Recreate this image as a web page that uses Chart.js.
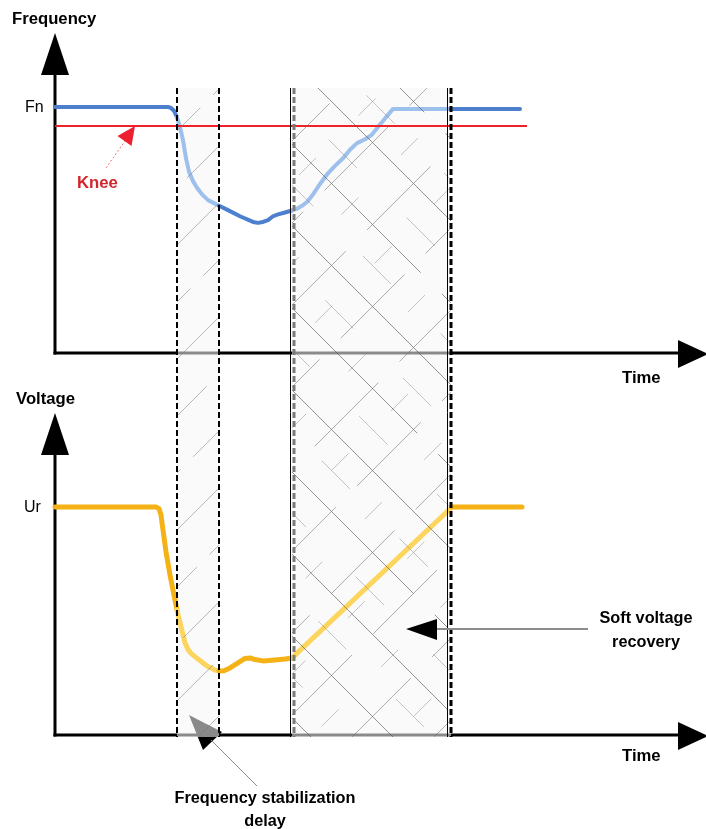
<!DOCTYPE html>
<html><head><meta charset="utf-8">
<style>html,body{margin:0;padding:0;background:#fff;}canvas{display:block;}</style>
<script src="https://cdn.jsdelivr.net/npm/chart.js@4"></script>
</head><body>
<canvas id="c" width="706" height="829"></canvas>
<script>
// ---- data (time in arbitrary units, frequency in Hz, voltage in % of Ur) ----
const timeF = [0, 11.3, 11.6, 11.9, 12.2, 12.5, 12.8, 13.1, 13.4, 13.8, 14.2, 14.7, 15.3, 16.4, 17.2, 18.5, 19.8, 20.3, 20.8, 21.3, 21.8, 22.3, 23.0, 23.7, 24.2, 24.7, 25.2, 25.8, 26.5, 27.2, 28.0, 28.8, 29.5, 30.2, 31.0, 31.7, 32.3, 33.0, 33.8, 39.6, 46.5];
const freqHz = [50, 50, 49.99, 49.96, 49.89, 49.79, 49.65, 49.46, 49.32, 49.22, 49.15, 49.08, 49.02, 48.96, 48.92, 48.85, 48.79, 48.78, 48.79, 48.81, 48.85, 48.87, 48.89, 48.91, 48.93, 48.96, 49.00, 49.08, 49.19, 49.29, 49.38, 49.46, 49.55, 49.62, 49.66, 49.71, 49.79, 49.88, 49.98, 49.98, 49.98];
const timeV = [0, 10.1, 10.4, 10.6, 10.8, 11.1, 11.5, 11.9, 12.2, 12.6, 13.0, 13.3, 13.6, 14.3, 15.2, 16.0, 16.4, 16.9, 17.5, 18.3, 19.0, 19.5, 20.0, 20.8, 22.0, 23.0, 23.7, 39.7, 46.7];
const voltPct = [100, 100, 99.3, 96.5, 89.9, 80.3, 70.2, 61.4, 54.8, 47.4, 40.4, 37.5, 35.8, 33.3, 30.3, 28.5, 28.1, 28.2, 29.4, 31.6, 33.6, 33.8, 33.1, 32.5, 32.9, 33.3, 33.8, 100, 100];
const kneeTime = [0, 47.2];
const kneeHz = [49.8, 49.8];
const shadeStart = [12.2, 23.7];   // frequency stabilization delay, soft voltage recovery
const shadeEnd = [16.4, 39.6];
const freqLabels = ['Fn'];
const voltLabels = ['Ur'];

// ---- layout helpers ----
const W = 706, H = 829;
function range(v1, p1, v2, p2, size, inverted) {
  const k = (v2 - v1) / (p2 - p1);
  const a = v1 - p1 * k, b = v1 + (size - p1) * k;
  return inverted ? {min: b, max: a} : {min: a, max: b};
}
const xr = range(0, 55, 10, 155, W, false);
const fr = range(50, 107, 49.8, 126, H, true);
const vr = range(100, 507, 0, 735, H, true);
const freqAxis = {base: 47.41, top: 50.78};
const voltAxis = {base: 0, top: 141.2};
const timeAxisEnd = 65.3;

const inShade = t => shadeStart.some((s, i) => t >= s && t <= shadeEnd[i]);
const segCol = (dark, light) => ctx => inShade((ctx.p0.parsed.x + ctx.p1.parsed.x) / 2) ? light : dark;

const BOLD = 'bold 16.7px "Liberation Sans", Arial, sans-serif';
const BOLD_S = 'bold 16.3px "Liberation Sans", Arial, sans-serif';
const REG = '16px "Liberation Sans", Arial, sans-serif';

function tri(ctx, pts, fill) {
  ctx.beginPath(); ctx.moveTo(pts[0][0], pts[0][1]);
  for (let i = 1; i < pts.length; i++) ctx.lineTo(pts[i][0], pts[i][1]);
  ctx.closePath(); ctx.fillStyle = fill; ctx.fill();
}
function line(ctx, x0, y0, x1, y1, col, w, dash) {
  ctx.beginPath(); ctx.setLineDash(dash || []); ctx.strokeStyle = col; ctx.lineWidth = w;
  ctx.moveTo(x0, y0); ctx.lineTo(x1, y1); ctx.stroke(); ctx.setLineDash([]);
}
function hatch(ctx, r, dir, spacing, offset, col, w, dash) {
  ctx.save(); ctx.beginPath(); ctx.rect(r.x0, r.y0, r.x1 - r.x0, r.y1 - r.y0); ctx.clip();
  ctx.strokeStyle = col; ctx.lineWidth = w;
  let k = 0;
  if (dir > 0) {
    const cmin = r.x0 + r.y0, cmax = r.x1 + r.y1;
    let c = cmin - (((cmin - offset) % spacing) + spacing) % spacing;
    for (; c <= cmax + spacing; c += spacing, k++) {
      ctx.setLineDash(dash || []); ctx.lineDashOffset = (k * 37) % 97;
      ctx.beginPath(); ctx.moveTo(r.x0, c - r.x0); ctx.lineTo(r.x1, c - r.x1); ctx.stroke();
    }
  } else {
    const cmin = r.y0 - r.x1, cmax = r.y1 - r.x0;
    let c = cmin - (((cmin - offset) % spacing) + spacing) % spacing;
    for (; c <= cmax + spacing; c += spacing, k++) {
      ctx.setLineDash(dash || []); ctx.lineDashOffset = (k * 53) % 101;
      ctx.beginPath(); ctx.moveTo(r.x0, c + r.x0); ctx.lineTo(r.x1, c + r.x1); ctx.stroke();
    }
  }
  ctx.restore();
}

const deco = {
  id: 'deco',
  beforeDatasetsDraw(chart) {
    const ctx = chart.ctx, xs = chart.scales.x, yF = chart.scales.yF, yV = chart.scales.yV;
    const x0 = xs.getPixelForValue(0), xEnd = xs.getPixelForValue(timeAxisEnd);
    ctx.save();
    // arrowhead of "Frequency stabilization delay" (partly under the shading)
    tri(ctx, [[189, 715], [222, 732], [203, 750]], '#000');
    // axes
    [[yF, freqAxis], [yV, voltAxis]].forEach(([ys, ax]) => {
      const yb = ys.getPixelForValue(ax.base), yt = ys.getPixelForValue(ax.top);
      line(ctx, x0, yt + 40, x0, yb + 1.5, '#000', 3);
      line(ctx, x0 - 1.5, yb, xEnd - 28, yb, '#000', 3);
      tri(ctx, [[x0, yt], [x0 - 14, yt + 42], [x0 + 14, yt + 42]], '#000');
      tri(ctx, [[xEnd, yb + 1], [xEnd - 30, yb - 13], [xEnd - 30, yb + 15]], '#000');
    });
    // shaded regions
    ctx.fillStyle = 'rgba(246,246,246,0.56)';
    shadeStart.forEach((s, i) => {
      const a = xs.getPixelForValue(s), b = xs.getPixelForValue(shadeEnd[i]);
      ctx.fillRect(a, 88, b - a, 737 - 88);
    });
    ctx.restore();
  },
  afterDatasetsDraw(chart) {
    const ctx = chart.ctx, xs = chart.scales.x, yF = chart.scales.yF, yV = chart.scales.yV;
    ctx.save();
    const r1 = {x0: xs.getPixelForValue(shadeStart[0]), x1: xs.getPixelForValue(shadeEnd[0]), y0: 88, y1: 737};
    const r2 = {x0: xs.getPixelForValue(shadeStart[1]), x1: xs.getPixelForValue(shadeEnd[1]), y0: 88, y1: 737};
    hatch(ctx, r1, 1, 57, 23, 'rgba(120,120,120,0.5)', 1, [70, 18]);
    hatch(ctx, r2, -1, 82, -230, 'rgba(80,80,80,0.6)', 1, [240, 30]);
    hatch(ctx, r2, 1, 82, 433, 'rgba(110,110,110,0.55)', 1, [90, 30]);
    hatch(ctx, r2, -1, 82, -189, 'rgba(140,140,140,0.5)', 1, [40, 70]);
    hatch(ctx, r2, 1, 82, 474, 'rgba(140,140,140,0.5)', 1, [24, 60]);
    // boundary lines
    const yTop = 88, yBot = 737;
    line(ctx, r1.x0, yTop, r1.x0, yBot, '#000', 2, [6, 3]);
    line(ctx, r1.x1, yTop, r1.x1, yBot, '#000', 2, [6, 3]);
    line(ctx, r2.x0 - 1.5, yTop, r2.x0 - 1.5, yBot, '#000', 1);
    line(ctx, r2.x0 + 2, yTop, r2.x0 + 2, yBot, '#7a7a7a', 3, [6, 3]);
    line(ctx, r2.x1 - 3.5, yTop, r2.x1 - 3.5, yBot, '#000', 1);
    line(ctx, r2.x1, yTop, r2.x1, yBot, '#000', 3, [6, 3]);

    // texts
    ctx.fillStyle = '#000'; ctx.textBaseline = 'alphabetic'; ctx.textAlign = 'left';
    ctx.font = BOLD;
    ctx.fillText('Frequency', 12, 24);
    ctx.fillText('Voltage', 16, 404);
    ctx.fillText('Time', 622, 383);
    ctx.fillText('Time', 622, 761);
    ctx.font = REG;
    ctx.textBaseline = 'middle';
    ctx.fillText(freqLabels[0], 25, yF.getPixelForValue(50) + 0.5);
    ctx.fillText(voltLabels[0], 24, yV.getPixelForValue(100) + 0.5);
    ctx.textBaseline = 'alphabetic';
    // knee annotation
    ctx.fillStyle = '#d0262c'; ctx.font = BOLD;
    ctx.fillText('Knee', 77, 188);
    line(ctx, 106, 168, 125, 141, 'rgba(232,60,60,0.7)', 1, [2, 2]);
    tri(ctx, [[135, 126], [131.5, 146], [117.5, 136]], '#ec2030');
    // soft voltage recovery
    ctx.fillStyle = '#000'; ctx.font = BOLD_S; ctx.textAlign = 'center';
    ctx.fillText('Soft voltage', 646, 623);
    ctx.fillText('recovery', 646, 647);
    line(ctx, 588, 629, 430, 629, '#8c8c8c', 2);
    tri(ctx, [[406, 629], [437, 619], [437, 640]], '#000');
    // frequency stabilization delay
    line(ctx, 211, 740, 257, 786, '#8a8a8a', 1);
    ctx.fillText('Frequency stabilization', 265, 803);
    ctx.fillText('delay', 265, 826);
    ctx.restore();
  }
};

new Chart(document.getElementById('c'), {
  type: 'line',
  data: {
    datasets: [
      {data: kneeTime.map((t, i) => ({x: t, y: kneeHz[i]})), yAxisID: 'yF', borderColor: '#f02228', borderWidth: 2, pointRadius: 0},
      {data: timeF.map((t, i) => ({x: t, y: freqHz[i]})), yAxisID: 'yF', borderWidth: 4, pointRadius: 0,
       tension: 0, borderJoinStyle: 'round', borderCapStyle: 'round', borderColor: '#4d7fcf',
       segment: {borderColor: segCol('#4d7fcf', '#9ec0ec')}},
      {data: timeV.map((t, i) => ({x: t, y: voltPct[i]})), yAxisID: 'yV', borderWidth: 5, pointRadius: 0,
       tension: 0, borderJoinStyle: 'round', borderCapStyle: 'round', borderColor: '#f5b216',
       segment: {borderColor: segCol('#f5b216', '#fcd55e')}}
    ]
  },
  options: {
    responsive: false, animation: false, devicePixelRatio: 1,
    layout: {padding: 0},
    plugins: {legend: {display: false}, tooltip: {enabled: false}},
    scales: {
      x: {type: 'linear', display: false, min: xr.min, max: xr.max},
      yF: {type: 'linear', display: false, min: fr.min, max: fr.max},
      yV: {type: 'linear', display: false, min: vr.min, max: vr.max}
    }
  },
  plugins: [deco]
});
</script>
</body></html>
